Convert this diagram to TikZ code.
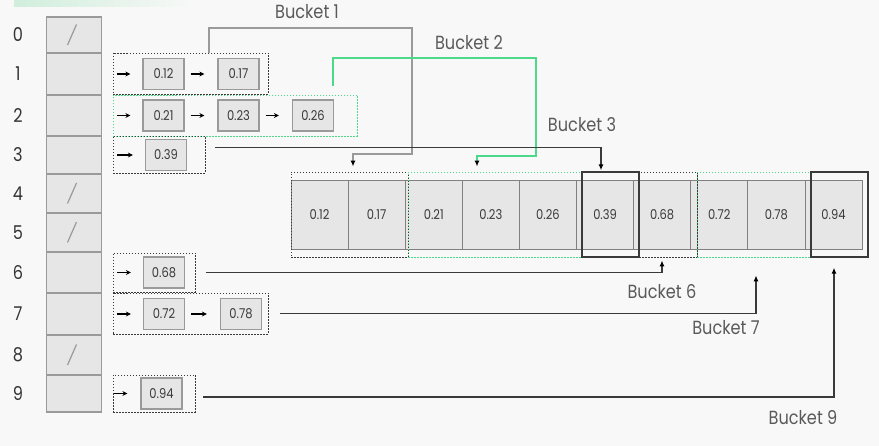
\documentclass[tikz,border=0pt]{standalone}
\usepackage{fontspec}
\setmainfont{Poppins}[FakeStretch=0.85]
\usepackage{xcolor}
\usetikzlibrary{calc,positioning,arrows.meta}
\definecolor{bgcol}{HTML}{F8F8F8}
\definecolor{cellfill}{HTML}{E6E6E6}
\definecolor{cellline}{HTML}{9A9A9A}
\definecolor{mint}{HTML}{4CD98A}
\definecolor{mintpale}{HTML}{D0EEDC}
\definecolor{ink}{HTML}{3A3A3A}
\definecolor{labgray}{HTML}{5A5A5A}
\tikzset{
    slot/.style={
    rectangle,draw=cellline,fill=cellfill,line width=1.3pt,minimum width=55pt,inner sep=0pt
    },
    item/.style={
    rectangle,draw=cellline,fill=cellfill,line width=1.2pt,minimum width=41pt,minimum height=31pt,
    inner sep=0pt,text=ink,font=\fontsize{13.5}{15}\selectfont
    },
    outcell/.style={
    rectangle,draw=gray,fill=cellfill,line width=0.8pt,minimum width=57.1pt,minimum height=69pt,
    inner sep=0pt,text=ink,font=\fontsize{13.5}{15}\selectfont
    },
    grp/.style={
    rectangle,draw=ink,line width=0.9pt,dash pattern=on 1.5pt off 1.5pt,inner sep=0pt
    },
    ggrp/.style={grp,draw=mint},
    sgrp/.style={rectangle,draw=ink,line width=1.4pt,inner sep=0pt},
    idx/.style={text=ink!90!black,font=\fontsize{19}{22}\selectfont},
    blabel/.style={text=labgray,font=\fontsize{19}{22}\selectfont},
  slash/.style={draw=cellline, line width=1.2pt},
  larrow/.style={draw=black, line width=1.1pt, -{Stealth[length=5pt,width=5pt]}},
  link/.style={draw=ink, line width=1.1pt, -{Latex[length=6pt,width=5pt,color=black]}},
}

\begin{document}
\begin{tikzpicture}[x=1pt, y=-1pt]
   \useasboundingbox (0,0) rectangle (879,446);
   \fill[bgcol] (0,0) rectangle (879,446);
   \shade[left color=mintpale, right color=bgcol] (14,0) rectangle (195,7);

   % index column
   \foreach \i/\t/\b in {0/17/53,1/53/95,2/95/136,3/136/174,4/174/213,
                         5/213/252,6/252/293,7/293/335,8/335/375,9/375/412} {
     \node[slot, minimum height={\b-\t}] (cell\i) at (74,{(\t+\b)/2}) {};
     \node[idx] (idx\i) at (18,{(\t+\b)/2}) {\i};
   }
   \foreach \i in {0,4,5,8}
     \draw[slash] ([xshift=-6.5pt,yshift=-10pt]cell\i.center) -- ([xshift=2.5pt,yshift=10.5pt]cell\i.center);

   % buckets
   \node[grp,  minimum width=155, minimum height=41] (b1) at (190.5, 73.5) {};
   \node[ggrp, minimum width=244, minimum height=41] (b2) at (235,115.5) {};
   \node[grp,  minimum width=92,  minimum height=37] (b3) at (159,154.5) {};
   \node[grp,  minimum width=82,  minimum height=39] (b6) at (154,272.5) {};
   \node[grp,  minimum width=155, minimum height=41] (b7) at (190.5,313.5) {};
   \node[grp,  minimum width=82,  minimum height=37] (b9) at (154,393.5) {};

   \node[item] (n12) at (163.5, 74)   {0.12};
   \node[item] (n17) at (238.5, 74)   {0.17};
   \node[item] (n21) at (163.5,115.5) {0.21};
   \node[item] (n23) at (238.5,115.5) {0.23};
   \node[item] (n26) at (313,  115.5) {0.26};
   \node[item] (n39) at (166,  155)   {0.39};
   \node[item] (n68) at (164,  272.5) {0.68};
   \node[item] (n72) at (164,  314)   {0.72};
   \node[item] (n78) at (241,  314)   {0.78};
   \node[item] (n94) at (161.5,393.5) {0.94};

  \path[larrow, shorten <=15pt, shorten >=12pt]
    (cell1) edge (n12)
    (cell2) edge (n21)
    (cell3) edge (n39)
    (cell6) edge (n68)
    (cell7) edge (n72);
  \path[larrow, shorten <=12pt, shorten >=13pt]
    (cell9) edge (n94);
  \path[larrow, shorten <=6pt, shorten >=13pt]
    (n12) edge (n17)
    (n21) edge (n23)
    (n23) edge (n26)
    (n72) edge (n78);

   % sorted output
   \foreach \v [count=\k from 0] in {0.12,0.17,0.21,0.23,0.26,0.39,0.68,0.72,0.78,0.94}
     \node[outcell] (out\k) at ({319.55+57.1*\k},214.5) {\v};

   \node[grp,  minimum width=117, minimum height=85] (g1) at (349.5,214.5) {};
   \node[ggrp, minimum width=174, minimum height=85] (g2) at (495,  214.5) {};
   \node[grp,  minimum width=58,  minimum height=85] (g6) at (668,  214.5) {};
   \node[ggrp, minimum width=114, minimum height=85] (g7) at (754,  214.5) {};
   \node[sgrp, minimum width=57,  minimum height=85] (g3) at (610.5,214.5) {};
   \node[sgrp, minimum width=57,  minimum height=85] (g9) at (839.5,214.5) {};

   % bucket links
   \draw[link, draw=cellline, line width=1.4pt, shorten >=5pt]
     ([xshift=18.5pt]b1.north) |- (412,28) -- (412,154) -| ([xshift=3.5pt]g1.north);
   \draw[link, draw=mint, line width=1.4pt, shorten <=9pt, shorten >=5pt]
     ([xshift=98pt]b2.north) |- (536,58) -- (536,156) -| ([xshift=-18pt]g2.north);
   \draw[link, line width=1.3pt, shorten <=10pt, shorten >=1pt]
     ([yshift=7pt]b3.east) -| ([xshift=-9.5pt]g3.north);
   \draw[link, shorten <=11pt, shorten >=3pt]
     (b6.east) -| ([xshift=-6pt]g6.south);
   \draw[link, shorten <=12pt, shorten >=18pt]
     (b7.east) -| ([xshift=2pt]g7.south);
   \draw[link, shorten <=8pt, shorten >=10pt]
     ([yshift=-3.5pt]b9.east) -| ([xshift=-5.5pt]g9.south);

   \node[blabel] (lbl1) at (307, 12) {Bucket 1};
   \node[blabel] (lbl2) at (469, 43) {Bucket 2};
   \node[blabel] (lbl3) at (582,125) {Bucket 3};
   \node[blabel] (lbl6) at (662,292) {Bucket 6};
   \node[blabel] (lbl7) at (726,328) {Bucket 7};
   \node[blabel] (lbl9) at (803,418) {Bucket 9};
\end{tikzpicture}
\end{document}
